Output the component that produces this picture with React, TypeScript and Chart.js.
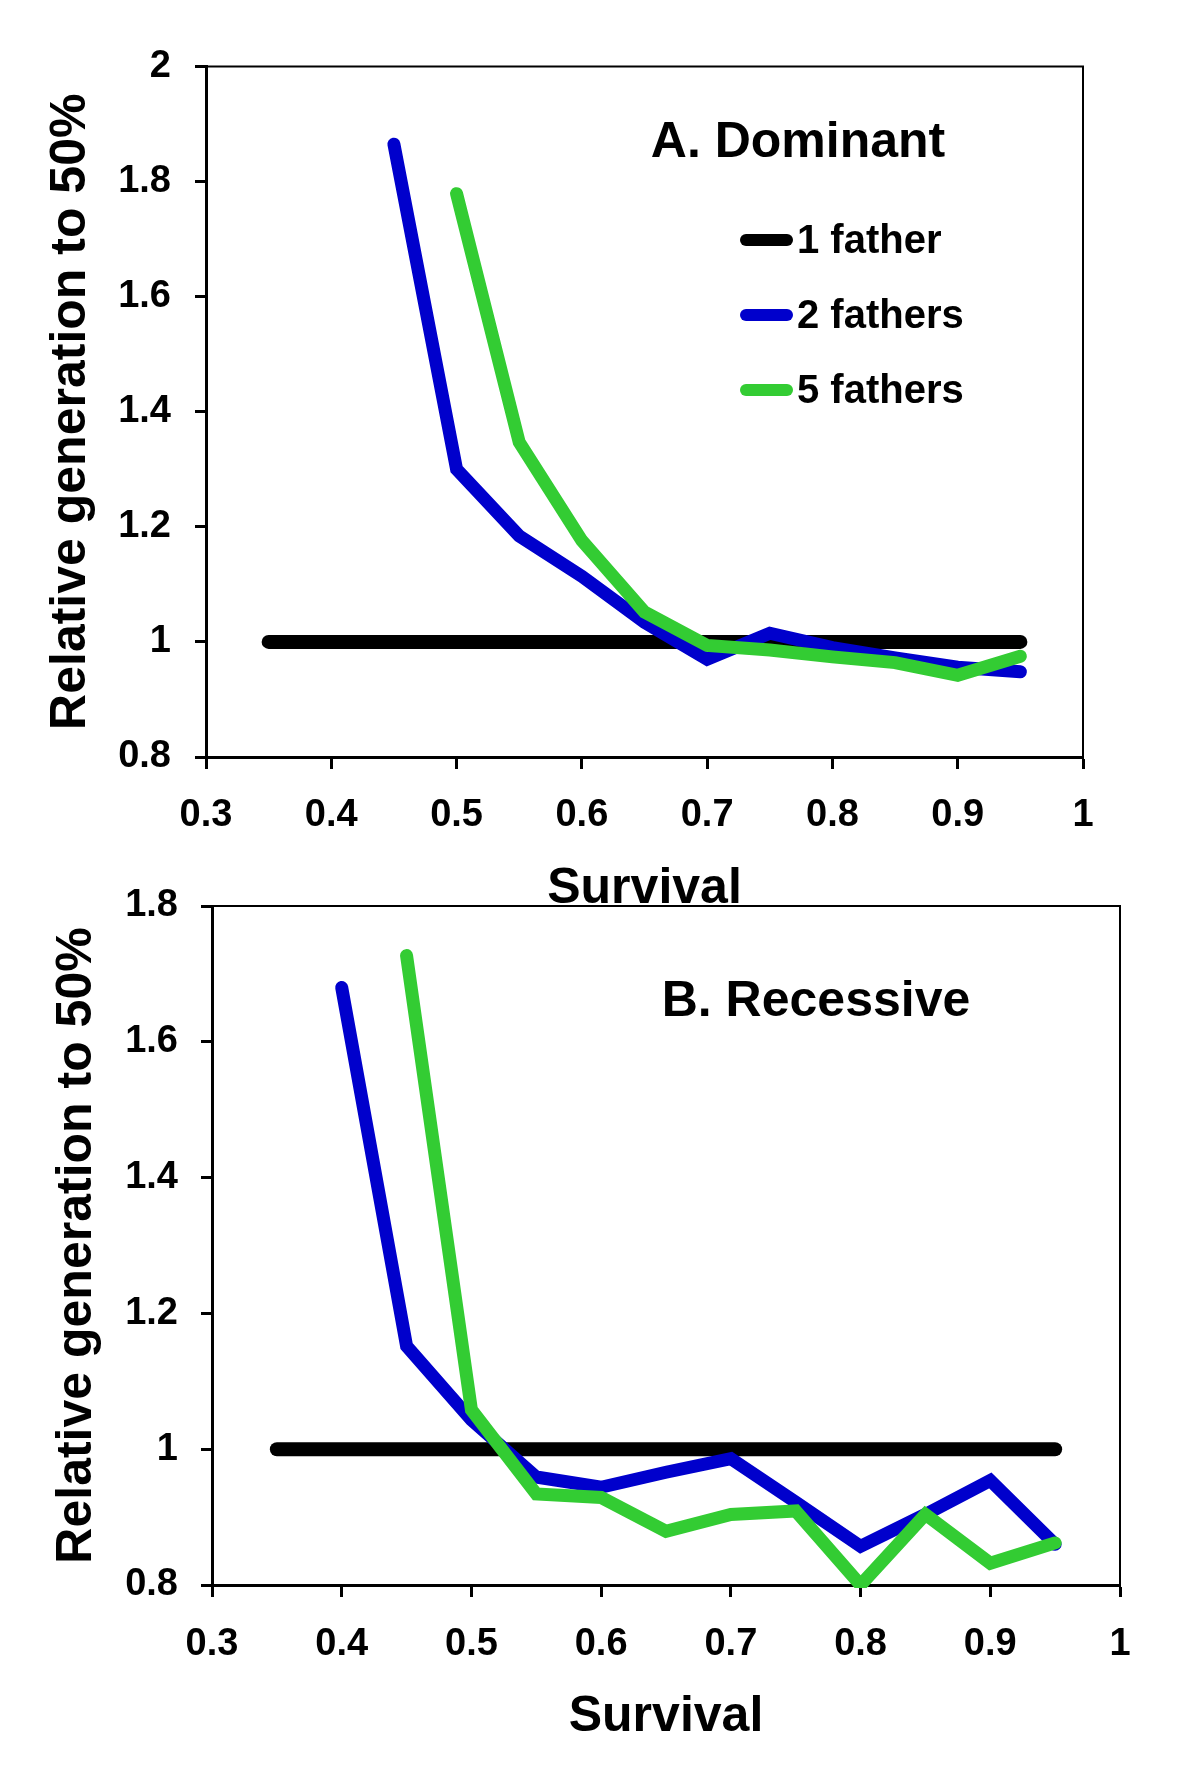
import React, { useEffect, useRef } from "react";
import { Chart, registerables } from "chart.js";

Chart.register(...registerables);

// ---------- data ----------
const survival = [0.35, 0.4, 0.45, 0.5, 0.55, 0.6, 0.65, 0.7, 0.75, 0.8, 0.85, 0.9, 0.95];
const seriesLabels = ["1 father", "2 fathers", "5 fathers"];

const dominantOneFather = [1, 1, 1, 1, 1, 1, 1, 1, 1, 1, 1, 1, 1];
const dominantTwoFathers = [null, null, 1.865, 1.3, 1.184, 1.114, 1.034, 0.97, 1.015, 0.99, 0.972, 0.956, 0.948];
const dominantFiveFathers = [null, null, null, 1.779, 1.347, 1.176, 1.052, 0.994, 0.986, 0.974, 0.964, 0.942, 0.975];

const recessiveOneFather = [1, 1, 1, 1, 1, 1, 1, 1, 1, 1, 1, 1, 1];
const recessiveTwoFathers = [null, 1.68, 1.152, 1.043, 0.959, 0.944, 0.966, 0.986, 0.922, 0.857, 0.904, 0.954, 0.86];
const recessiveFiveFathers = [null, null, 1.727, 1.058, 0.934, 0.929, 0.879, 0.904, 0.909, 0.8, 0.904, 0.832, 0.862];

const xAxisTitle = "Survival";
const yAxisTitle = "Relative generation to 50%";
const panelTitleA = "A. Dominant";
const panelTitleB = "B. Recessive";

// ---------- styles ----------
const FONT = '"Liberation Sans", Arial, Helvetica, sans-serif';
const COLORS = ["#000000", "#0000CC", "#33CC33"];

const fmt = (v: any) => String(Number(Number(v).toFixed(1)));

function toPoints(values: (number | null)[]) {
  return survival
    .map((x, i) => ({ x, y: values[i] }))
    .filter((p) => p.y !== null);
}

type PanelCfg = {
  series: (number | null)[][];
  yMax: number;
  padTop: number;
  padRight: number;
  yAxisWidth: number;
  xAxisHeight: number;
  xTickPad: number;
  yTickPad: number;
  yTitlePad: number;
  lineWidth: number;
  blackWidth: number;
  title: string;
  titleX: number;
  titleY: number;
  legend: boolean;
};

function makeConfig(p: PanelCfg): any {
  const datasets = p.series.map((vals, i) => ({
    label: seriesLabels[i],
    data: toPoints(vals),
    borderColor: COLORS[i],
    backgroundColor: COLORS[i],
    borderWidth: i === 0 ? p.blackWidth : p.lineWidth,
    borderCapStyle: "round",
    borderJoinStyle: "miter",
    pointRadius: 0,
    tension: 0,
    fill: false,
    order: 3 - i,
    clip: 3,
  }));

  const overlay = {
    id: "overlay",
    beforeDatasetsDraw(chart: any) {
      const { ctx, chartArea } = chart;
      ctx.save();
      ctx.strokeStyle = "#000";
      ctx.lineWidth = 2;
      ctx.beginPath();
      ctx.moveTo(chartArea.left, chartArea.top);
      ctx.lineTo(chartArea.right, chartArea.top);
      ctx.lineTo(chartArea.right, chartArea.bottom);
      ctx.stroke();
      ctx.restore();
    },
    afterDraw(chart: any) {
      const { ctx } = chart;
      ctx.save();
      ctx.fillStyle = "#000";
      ctx.font = `bold 50px ${FONT}`;
      ctx.textAlign = "center";
      ctx.textBaseline = "middle";
      ctx.fillText(p.title, p.titleX, p.titleY);
      if (p.legend) {
        const ys = [240, 315, 390];
        ctx.font = `bold 40px ${FONT}`;
        ctx.textAlign = "left";
        seriesLabels.forEach((lab, i) => {
          ctx.strokeStyle = COLORS[i];
          ctx.lineWidth = 12;
          ctx.lineCap = "round";
          ctx.beginPath();
          ctx.moveTo(746, ys[i]);
          ctx.lineTo(787, ys[i]);
          ctx.stroke();
          ctx.fillText(lab, 797, ys[i] + 2);
        });
      }
      ctx.restore();
    },
  };

  return {
    type: "line",
    data: { datasets },
    options: {
      responsive: false,
      animation: false,
      devicePixelRatio: 1,
      layout: { padding: { top: p.padTop, right: p.padRight, left: 0, bottom: 0 } },
      plugins: { legend: { display: false }, tooltip: { enabled: false } },
      scales: {
        x: {
          type: "linear",
          position: "bottom",
          min: 0.3,
          max: 1,
          afterFit: (s: any) => {
            s.height = p.xAxisHeight;
            s.paddingLeft = 0;
            s.paddingRight = 0;
          },
          ticks: {
            stepSize: 0.1,
            autoSkip: false,
            maxRotation: 0,
            padding: p.xTickPad,
            color: "#000",
            font: { family: FONT, size: 38, weight: "bold" },
            callback: fmt,
          },
          grid: {
            drawOnChartArea: false,
            drawTicks: true,
            tickLength: 12,
            tickWidth: 3,
            tickColor: "#000",
          },
          border: { display: true, color: "#000", width: 3 },
          title: {
            display: true,
            text: xAxisTitle,
            color: "#000",
            font: { family: FONT, size: 50, weight: "bold" },
            padding: 0,
          },
        },
        y: {
          type: "linear",
          position: "left",
          min: 0.8,
          max: p.yMax,
          afterFit: (s: any) => {
            s.width = p.yAxisWidth;
            s.paddingTop = 0;
            s.paddingBottom = 0;
          },
          ticks: {
            stepSize: 0.2,
            padding: p.yTickPad,
            color: "#000",
            font: { family: FONT, size: 38, weight: "bold" },
            callback: fmt,
          },
          grid: {
            drawOnChartArea: false,
            drawTicks: true,
            tickLength: 11,
            tickWidth: 3,
            tickColor: "#000",
          },
          border: { display: true, color: "#000", width: 3 },
          title: {
            display: true,
            text: yAxisTitle,
            color: "#000",
            font: { family: FONT, size: 50, weight: "bold" },
            padding: { top: p.yTitlePad, bottom: 0 },
          },
        },
      },
    },
    plugins: [overlay],
  };
}

function Panel({ cfg, top, height }: { cfg: PanelCfg; top: number; height: number }) {
  const ref = useRef<HTMLCanvasElement | null>(null);
  useEffect(() => {
    if (!ref.current) return;
    const chart = new Chart(ref.current, makeConfig(cfg));
    return () => chart.destroy();
  }, []);
  return (
    <canvas
      ref={ref}
      width={1200}
      height={height}
      style={{ position: "absolute", left: 0, top, width: 1200, height, display: "block" }}
    />
  );
}

const panelA: PanelCfg = {
  series: [dominantOneFather, dominantTwoFathers, dominantFiveFathers],
  yMax: 2,
  padTop: 66.5,
  padRight: 117,
  yAxisWidth: 206,
  xAxisHeight: 162,
  xTickPad: 24,
  yTickPad: 24,
  yTitlePad: 41,
  lineWidth: 13,
  blackWidth: 14,
  title: panelTitleA,
  titleX: 798,
  titleY: 143,
  legend: true,
};

const panelB: PanelCfg = {
  series: [recessiveOneFather, recessiveTwoFathers, recessiveFiveFathers],
  yMax: 1.8,
  padTop: 26,
  padRight: 80,
  yAxisWidth: 212,
  xAxisHeight: 162,
  xTickPad: 25,
  yTickPad: 23,
  yTitlePad: 47,
  lineWidth: 13,
  blackWidth: 14,
  title: panelTitleB,
  titleX: 816,
  titleY: 122,
  legend: false,
};

export default function App() {
  return (
    <div style={{ position: "absolute", left: 0, top: 0, width: 1200, height: 1766, background: "#fff" }}>
      <Panel cfg={panelA} top={0} height={919} />
      <Panel cfg={panelB} top={880} height={867} />
    </div>
  );
}
